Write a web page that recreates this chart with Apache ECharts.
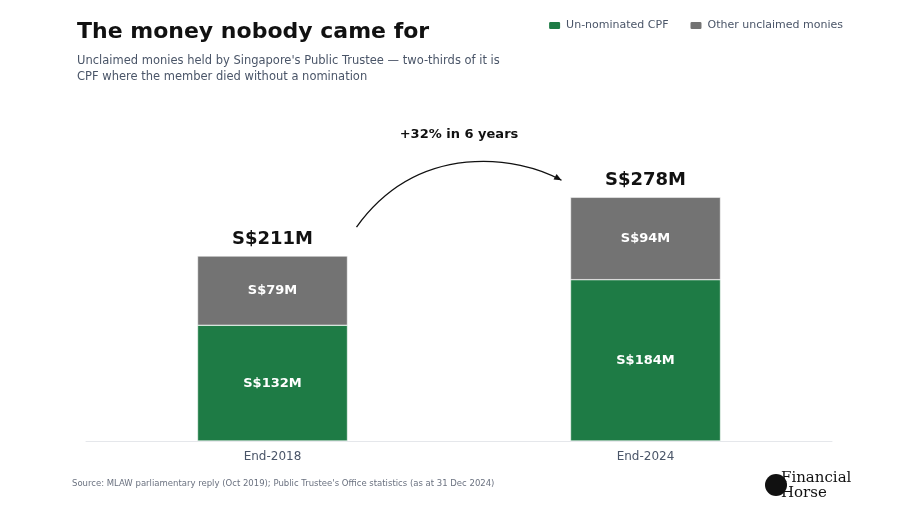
<!DOCTYPE html>
<html><head><meta charset="utf-8">
<script src="https://cdn.jsdelivr.net/npm/echarts@6/dist/echarts.min.js"></script>
<style>html,body{margin:0;padding:0;background:#fff}#c{width:902px;height:508px}</style>
</head><body><div id="c"></div>
<script>
const categories = ['End-2018', 'End-2024'];
const cpf = [132, 184];
const other = [79, 94];
const totals = [211, 278];
const F = 'DejaVu Sans';
const chart = echarts.init(document.getElementById('c'));
chart.setOption({
  animation: false,
  textStyle: { fontFamily: F },
  title: {
    text: 'The money nobody came for',
    subtext: "Unclaimed monies held by Singapore's Public Trustee — two-thirds of it is\nCPF where the member died without a nomination",
    left: 72, top: 16, itemGap: 10,
    textStyle: { fontFamily: F, fontSize: 22, fontWeight: 'bold', color: '#111' },
    subtextStyle: { fontFamily: F, fontSize: 11.5, color: '#4a5568', lineHeight: 16 }
  },
  legend: {
    right: 54, top: 15, itemWidth: 13, itemHeight: 9, itemGap: 20,
    textStyle: { fontFamily: F, fontSize: 11, color: '#4a5568' },
    data: ['Un-nominated CPF', 'Other unclaimed monies']
  },
  grid: { left: 86, right: 70, top: 178, bottom: 67 },
  xAxis: {
    type: 'category', data: categories,
    axisLine: { lineStyle: { color: '#e5e7eb' } }, axisTick: { show: false },
    axisLabel: { fontFamily: F, fontSize: 12, color: '#4a5568', margin: 10 }
  },
  yAxis: { type: 'value', min: 0, max: 300, show: false, splitLine: { show: false } },
  series: [
    { name: 'Un-nominated CPF', type: 'bar', stack: 't', data: cpf, barWidth: 150,
      itemStyle: { color: '#1e7b45', borderColor: '#fff', borderWidth: 0.5 },
      label: { show: true, position: 'inside', formatter: p => 'S$' + p.value + 'M', color: '#fff', fontWeight: 'bold', fontSize: 13, fontFamily: F } },
    { name: 'Other unclaimed monies', type: 'bar', stack: 't', data: other, barWidth: 150,
      itemStyle: { color: '#737373', borderColor: '#fff', borderWidth: 0.5 },
      label: { show: true, position: 'inside', formatter: p => 'S$' + p.value + 'M', color: '#fff', fontWeight: 'bold', fontSize: 13, fontFamily: F } },
    { name: 'total', type: 'bar', stack: 't', data: totals.map(() => 0), barWidth: 150, silent: true,
      label: { show: true, position: 'top', distance: 8, formatter: p => 'S$' + totals[p.dataIndex] + 'M', color: '#111', fontWeight: 'bold', fontSize: 18, fontFamily: F } }
  ]
});
const a = chart.convertToPixel({ gridIndex: 0 }, [0, totals[0]]);
const b = chart.convertToPixel({ gridIndex: 0 }, [1, totals[1]]);
const x1 = a[0] + 84, y1 = a[1] - 29, x2 = b[0] - 84, y2 = b[1] - 17;
const cx = (x1 + x2) / 2, cy = y2 - 30;
const ang = Math.atan2(y2 - (cy + 6), x2 - (cx + 60));
const L = 8;
chart.setOption({
  graphic: [
    { type: 'bezierCurve', shape: { x1, y1, x2, y2, cpx1: cx - 40, cpy1: cy - 10, cpx2: cx + 60, cpy2: cy + 6 }, style: { stroke: '#111', lineWidth: 1.3, fill: null } },
    { type: 'polygon', shape: { points: [[x2, y2], [x2 - L * Math.cos(ang - 0.4), y2 - L * Math.sin(ang - 0.4)], [x2 - L * Math.cos(ang + 0.4), y2 - L * Math.sin(ang + 0.4)]] }, style: { fill: '#111' } },
    { type: 'text', x: (x1 + x2) / 2, y: cy - 16, style: { text: '+32% in 6 years', font: 'bold 13px "DejaVu Sans"', fill: '#111', textAlign: 'center', textVerticalAlign: 'middle' } },
    { type: 'text', x: 72, y: 484, style: { text: "Source: MLAW parliamentary reply (Oct 2019); Public Trustee's Office statistics (as at 31 Dec 2024)", font: '8.5px "DejaVu Sans"', fill: '#6b7280', textVerticalAlign: 'middle' } },
    { type: 'text', x: 781, y: 471, style: { text: 'Financial\nHorse', font: '15px "DejaVu Serif"', fill: '#111', lineHeight: 15 } },
    { type: 'circle', shape: { cx: 776, cy: 485, r: 11 }, style: { fill: '#111' } }
  ]
});
</script></body></html>
